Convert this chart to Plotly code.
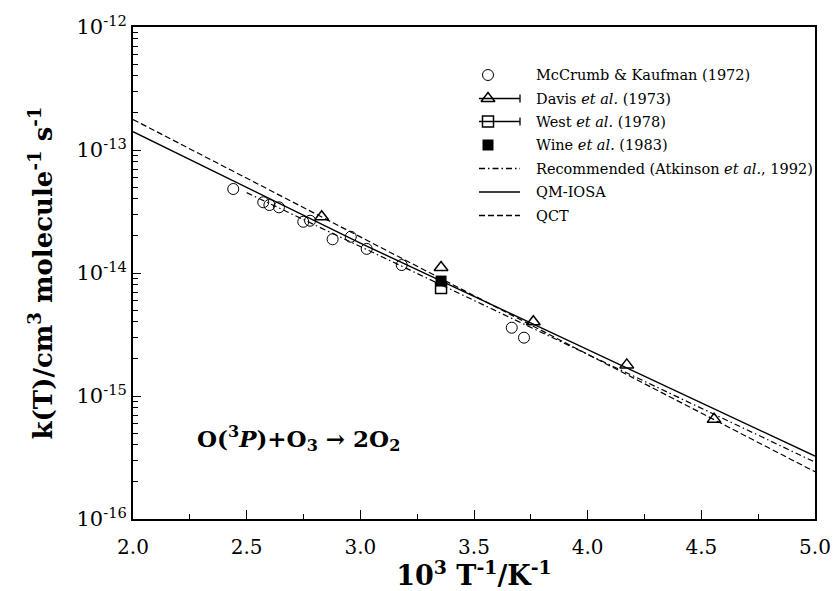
import plotly.graph_objects as go

# --- Data: rate constant k(T) vs 1000/T for O(3P) + O3 -> 2 O2 ---
inv_T_mccrumb = [2.441, 2.573, 2.600, 2.642, 2.749, 2.779, 2.878, 2.958, 3.028, 3.182, 3.666, 3.720]
k_mccrumb = [4.82e-14, 3.76e-14, 3.57e-14, 3.42e-14, 2.61e-14, 2.66e-14,
             1.88e-14, 1.97e-14, 1.57e-14, 1.16e-14, 3.59e-15, 2.98e-15]

inv_T_davis = [2.830, 3.355, 3.761, 4.172, 4.556]
k_davis = [2.87e-14, 1.11e-14, 4.02e-15, 1.79e-15, 6.46e-16]

inv_T_west = [3.355]
k_west = [7.55e-15]

inv_T_wine = [3.355]
k_wine = [8.6e-15]

inv_T_rec = [2.5, 5.0]
k_rec = [4.5e-14, 2.9e-16]

inv_T_qm = [2.0, 3.0, 5.0]
k_qm = [1.41e-13, 1.75e-14, 3.25e-16]

inv_T_qct = [2.0, 5.0]
k_qct = [1.77e-13, 2.42e-16]

legend_labels = [
    "McCrumb &amp; Kaufman (1972)",
    "Davis <i>et al.</i> (1973)",
    "West <i>et al.</i> (1978)",
    "Wine <i>et al.</i> (1983)",
    "Recommended (Atkinson <i>et al.</i>, 1992)",
    "QM-IOSA",
    "QCT",
]

x_ticks = [2.0, 2.5, 3.0, 3.5, 4.0, 4.5, 5.0]
y_exponents = [-16, -15, -14, -13, -12]

# --- Layout geometry (pixels) ---
W, H = 835, 591
L, R, T, B = 133, 815, 27, 519
FONT = "DejaVu Serif"
BLACK = "black"

fig = go.Figure()

# measured points
fig.add_trace(go.Scatter(x=inv_T_mccrumb, y=k_mccrumb, mode="markers",
                         marker=dict(symbol="circle-open", size=11, color=BLACK, line=dict(width=1))))
fig.add_trace(go.Scatter(x=inv_T_davis, y=k_davis, mode="markers",
                         marker=dict(symbol="triangle-up-open", size=12, color=BLACK, line=dict(width=1.5))))
fig.add_trace(go.Scatter(x=inv_T_west, y=k_west, mode="markers",
                         marker=dict(symbol="square-open", size=11, color=BLACK, line=dict(width=1.5))))
fig.add_trace(go.Scatter(x=inv_T_wine, y=k_wine, mode="markers",
                         marker=dict(symbol="square", size=11, color=BLACK, line=dict(width=0))))

# fitted / computed curves
fig.add_trace(go.Scatter(x=inv_T_rec, y=k_rec, mode="lines",
                         line=dict(color=BLACK, width=1.2, dash="6px,3px,1.5px,3px")))
fig.add_trace(go.Scatter(x=inv_T_qm, y=k_qm, mode="lines",
                         line=dict(color=BLACK, width=1.4)))
fig.add_trace(go.Scatter(x=inv_T_qct, y=k_qct, mode="lines",
                         line=dict(color=BLACK, width=1.2, dash="6px,3px")))

# --- Hand-drawn legend on a pixel-space overlay axis ---
rows_y = [75, 98.5, 121.5, 145, 168.5, 192, 215.5]
glyph_x0, glyph_x1, marker_x, text_x = 479, 520, 488, 534

def leg_line(y, dash="solid", cap=False):
    fig.add_trace(go.Scatter(x=[glyph_x0, glyph_x1], y=[y, y], mode="lines",
                             xaxis="x2", yaxis="y2", hoverinfo="skip",
                             line=dict(color=BLACK, width=1.3, dash=dash)))
    if cap:
        fig.add_trace(go.Scatter(x=[glyph_x1, glyph_x1], y=[y - 4, y + 4], mode="lines",
                                 xaxis="x2", yaxis="y2", hoverinfo="skip",
                                 line=dict(color=BLACK, width=1.3)))

def leg_marker(y, symbol, size, width=1.3):
    fig.add_trace(go.Scatter(x=[marker_x], y=[y], mode="markers",
                             xaxis="x2", yaxis="y2", hoverinfo="skip",
                             marker=dict(symbol=symbol, size=size, color=BLACK,
                                         line=dict(width=width, color=BLACK))))

leg_marker(rows_y[0], "circle-open", 11, 1)
leg_line(rows_y[1], cap=True)
leg_marker(rows_y[1], "triangle-up-open", 12, 1.5)
leg_line(rows_y[2], cap=True)
leg_marker(rows_y[2], "square-open", 11, 1.5)
leg_marker(rows_y[3], "square", 11, 0)
leg_line(rows_y[4], dash="6px,3px,1.5px,3px")
leg_line(rows_y[5])
leg_line(rows_y[6], dash="6px,3px")

annotations = []
for label, y in zip(legend_labels, rows_y):
    annotations.append(dict(text=label, x=text_x, y=y, xref="x2", yref="y2",
                            xanchor="left", yanchor="middle", showarrow=False,
                            font=dict(family=FONT, size=14.5, color=BLACK)))

# reaction label
annotations.append(dict(
    text="<b>O(<sup>3</sup><i>P</i>)+O<sub>3</sub> \u2192 2O<sub>2</sub></b>",
    x=195, y=438, xref="x2", yref="y2", xanchor="left", yanchor="middle",
    showarrow=False, font=dict(family=FONT, size=23, color=BLACK)))

# minor ticks on log axis (2..9 within each decade)
minor_y = []
for e in y_exponents[:-1]:
    for m in range(2, 10):
        minor_y.append(m * 10.0 ** e)

fig.update_layout(
    width=W, height=H,
    margin=dict(l=L, r=W - R, t=T, b=H - B, pad=0),
    paper_bgcolor="white", plot_bgcolor="white",
    showlegend=False,
    font=dict(family=FONT, color=BLACK),
    annotations=annotations,
    xaxis=dict(
        range=[2.0, 5.0], tickvals=x_ticks, automargin=False,
        ticktext=[f"{v:.1f}" for v in x_ticks],
        ticks="inside", ticklen=9, tickwidth=1.2, tickcolor=BLACK,
        minor=dict(ticks="inside", ticklen=5, tickwidth=1, tickcolor=BLACK, dtick=0.25, showgrid=False),
        showline=True, linecolor=BLACK, linewidth=1.8, mirror=True,
        showgrid=False, zeroline=False,
        ticklabelstandoff=9,
        tickfont=dict(family=FONT, size=20, color=BLACK),
        title=dict(text="<b>10<sup>3</sup> T<sup>-1</sup>/K<sup>-1</sup></b>",
                   font=dict(family=FONT, size=27, color=BLACK), standoff=6),
    ),
    yaxis=dict(
        type="log", range=[-16, -12], automargin=False,
        tickvals=[10.0 ** e for e in y_exponents],
        ticktext=[f"10<sup>{e}</sup>" for e in y_exponents],
        ticks="inside", ticklen=8, tickwidth=1.2, tickcolor=BLACK,
        minor=dict(ticks="inside", ticklen=5, tickwidth=1, tickcolor=BLACK,
                   tickvals=minor_y, showgrid=False),
        showline=True, linecolor=BLACK, linewidth=1.8, mirror=True,
        showgrid=False, zeroline=False,
        tickfont=dict(family=FONT, size=21, color=BLACK),
        title=dict(text="<b>k(T)/cm<sup>3</sup> molecule<sup>-1</sup> s<sup>-1</sup></b>",
                   font=dict(family=FONT, size=26, color=BLACK), standoff=16),
    ),
    xaxis2=dict(range=[L, R], overlaying="x", visible=False, fixedrange=True),
    yaxis2=dict(range=[B, T], overlaying="y", visible=False, fixedrange=True),
)

fig.write_html("out.html")
